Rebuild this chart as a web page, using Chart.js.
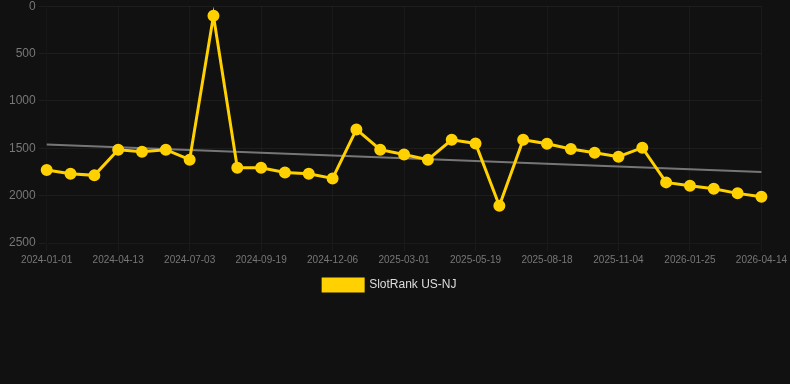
<!DOCTYPE html>
<html>
<head>
<meta charset="utf-8">
<script src="https://cdn.jsdelivr.net/npm/chart.js@4"></script>
<style>
  body { margin: 0; background: #111111; overflow: hidden; }
  #wrap { width: 790px; height: 305px; margin-top: -4px; }
</style>
</head>
<body>
<div id="wrap"><canvas id="grafico"></canvas></div>
<script>
// dates (only every 3rd shown on the axis)
const fechas = [
  "2024-01-01", "2024-02-04", "2024-03-09", "2024-04-13", "2024-05-10", "2024-06-06",
  "2024-07-03", "2024-07-29", "2024-08-24", "2024-09-19", "2024-10-18", "2024-11-12",
  "2024-12-06", "2025-01-03", "2025-02-01", "2025-03-01", "2025-03-28", "2025-04-23",
  "2025-05-19", "2025-06-19", "2025-07-19", "2025-08-18", "2025-09-13", "2025-10-09",
  "2025-11-04", "2025-12-01", "2025-12-28", "2026-01-25", "2026-02-20", "2026-03-18",
  "2026-04-14"
];

// rank values (lower is better, axis reversed)
const ranking = [
  1730, 1768, 1786, 1515, 1537, 1515, 1621, 102, 1705, 1705, 1755,
  1769, 1818, 1301, 1515, 1565, 1621, 1410, 1449, 2106, 1410, 1452,
  1508, 1547, 1589, 1494, 1860, 1895, 1927, 1976, 2011
];

// trend line: start and end only
const tendenciaInicio = 1459;
const tendenciaFin = 1750;
const tendencia = fechas.map((f, i) =>
  i === 0 ? tendenciaInicio : i === fechas.length - 1 ? tendenciaFin : null
);

const yTicks = [0, 500, 1000, 1500, 2000, 2500];

let ctx = document.getElementById("grafico").getContext("2d");
let grafico = new Chart(ctx, {
  type: "line",
  data: {
    labels: fechas,
    datasets: [
      {
        label: "SlotRank US-NJ",
        data: ranking,
        borderColor: "#FFD100",
        backgroundColor: "#FFD100",
        borderWidth: 3,
        pointRadius: 5,
        pointBackgroundColor: "#FFD100",
        pointBorderColor: "#FFD100",
        pointBorderWidth: 2,
        tension: 0,
      },
      {
        label: "trend",
        data: tendencia,
        borderColor: "rgba(130, 130, 130, 0.9)",
        borderWidth: 2,
        pointRadius: 0,
        spanGaps: true,
        fill: false,
      },
    ],
  },
  options: {
    responsive: true,
    maintainAspectRatio: false,
    animation: false,
    layout: { padding: { left: 6, right: 3 } },
    plugins: {
      tooltip: { enabled: false },
      legend: {
        position: "bottom",
        labels: {
          color: "#dddddd",
          font: { family: "Arial", size: 12 },
          boxWidth: 40,
          filter: (item) => item.text !== "trend",
          generateLabels: function (chart) {
            let items = Chart.defaults.plugins.legend.labels.generateLabels(chart);
            items.forEach((it) => {
              if (it.text !== "trend") it.text = it.text + "    ";
            });
            return items;
          },
        },
      },
    },
    scales: {
      x: {
        grid: { color: "rgba(255,255,255,0.04)" },
        ticks: {
          color: "#777777",
          font: { family: "Arial", size: 10 },
          autoSkip: false,
          maxRotation: 0,
          callback: function (val, i) {
            return i % 3 === 0 ? fechas[i] : null;
          },
        },
      },
      y: {
        reverse: true,
        min: yTicks[0],
        max: yTicks[yTicks.length - 1],
        grid: { color: "rgba(255,255,255,0.05)" },
        ticks: {
          color: "#777777",
          font: { family: "Arial", size: 12 },
          stepSize: 500,
          callback: (v) => String(v),
        },
      },
    },
  },
});
</script>
</body>
</html>
